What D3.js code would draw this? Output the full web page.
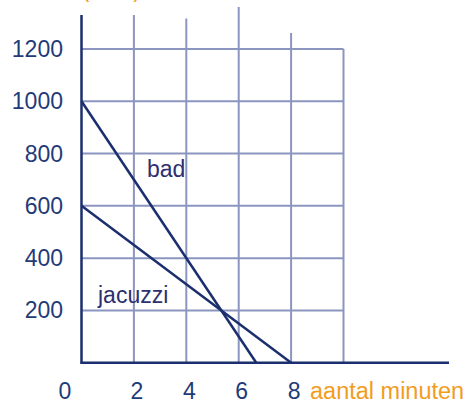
<!DOCTYPE html>
<html>
<head>
<meta charset="utf-8">
<script src="https://cdn.jsdelivr.net/npm/d3@7"></script>
<style>
body { margin: 0; background: #fff; }
text { font-family: "Liberation Sans", Arial, sans-serif; }
</style>
</head>
<body>
<div id="chart"></div>
<script>
// data
var xTicks = [2, 4, 6, 8];
var yTicks = [200, 400, 600, 800, 1000, 1200];
var gridX = [2, 4, 6, 8, 10];
var series = [
	{ name: "bad", points: [[0, 1000], [6.67, 0]] },
	{ name: "jacuzzi", points: [[0, 600], [8, 0]] }
];

var width = 472, height = 403;
var svg = d3.select("#chart").append("svg")
	.attr("width", width).attr("height", height);

var x = d3.scaleLinear().domain([0, 10]).range([81.5, 343.5]);
var y = d3.scaleLinear().domain([0, 1200]).range([362.7, 49]);

var gridColor = "#8c95bf", axisColor = "#1b2f6e", textColor = "#1f3b78", orange = "#f29c1e";

// vertical grid lines stick up over the top line by different amounts (px tops)
var gridTops = [15, 18.5, 7, 33, 49];
svg.append("g").selectAll("line").data(gridX).enter().append("line")
	.attr("x1", d => x(d)).attr("x2", d => x(d))
	.attr("y1", y(0)).attr("y2", (d, i) => gridTops[i])
	.style("stroke", gridColor).style("stroke-width", 2);

svg.append("g").selectAll("line").data(yTicks).enter().append("line")
	.attr("x1", x(0)).attr("x2", x(10))
	.attr("y1", d => y(d)).attr("y2", d => y(d))
	.style("stroke", gridColor).style("stroke-width", 2);

// axes
svg.append("line").attr("x1", x(0)).attr("x2", x(0)).attr("y1", y(0) + 1).attr("y2", 15)
	.style("stroke", axisColor).style("stroke-width", 2.5);
svg.append("line").attr("x1", x(0) - 1).attr("x2", 449).attr("y1", y(0)).attr("y2", y(0))
	.style("stroke", axisColor).style("stroke-width", 2.5);

// lines
var line = d3.line().x(d => x(d[0])).y(d => y(d[1]));
svg.selectAll(".serie").data(series).enter().append("path")
	.attr("class", "serie")
	.attr("d", d => line(d.points))
	.style("fill", "none").style("stroke", axisColor).style("stroke-width", 2.5);

// tick labels
svg.append("g").selectAll("text").data(yTicks).enter().append("text")
	.attr("x", 63).attr("y", d => y(d) + 8)
	.attr("text-anchor", "end")
	.style("font-size", "23px").style("fill", textColor)
	.text(d => d);
svg.append("g").selectAll("text").data([0].concat(xTicks)).enter().append("text")
	.attr("x", d => d === 0 ? 65 : x(d) + 3).attr("y", 399)
	.attr("text-anchor", "middle")
	.style("font-size", "23px").style("fill", textColor)
	.text(d => d);

// axis titles
svg.append("text").attr("x", 310).attr("y", 399)
	.style("font-size", "23.5px").style("fill", orange)
	.text("aantal minuten");
svg.append("text").attr("x", 82).attr("y", -3)
	.style("font-size", "22px").style("fill", orange)
	.text("(euro)");

// line names
svg.append("text").attr("x", 147).attr("y", 177)
	.style("font-size", "23px").style("fill", "#2e2f70").text("bad");
svg.append("text").attr("x", 98).attr("y", 303)
	.style("font-size", "23px").style("fill", "#2e2f70").text("jacuzzi");
</script>
</body>
</html>
